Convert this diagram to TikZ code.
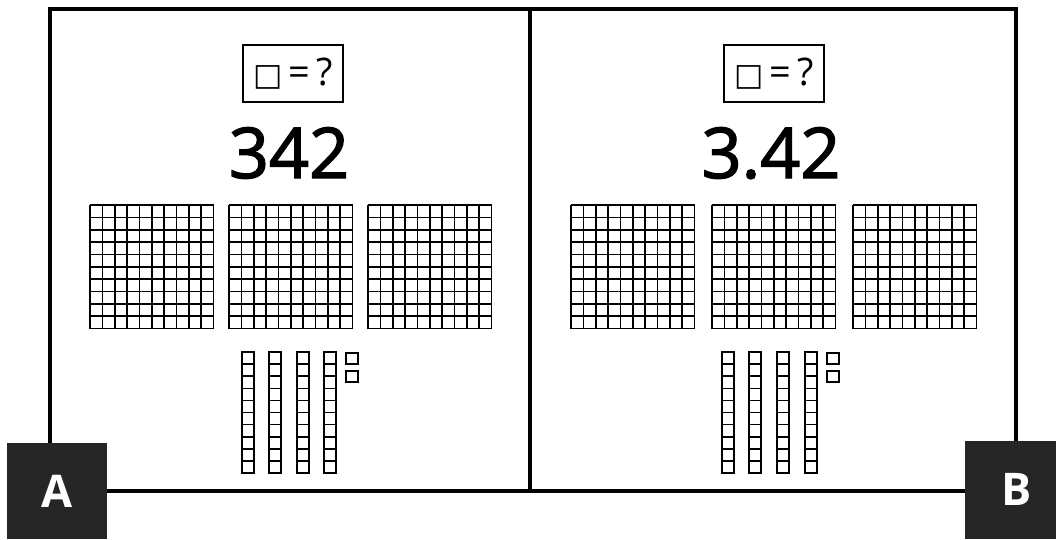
\documentclass[tikz,border=0pt]{standalone}
\usepackage{fontspec}
\setmainfont{Open Sans}
\newfontfamily\symbfont{DejaVu Sans}
\newfontfamily\numfont[FakeBold=2]{Open Sans}
\begin{document}
\begin{tikzpicture}[x=1pt, y=-1pt,
  frame/.style={line width=3.5pt},
  gridline/.style={line width=1.6pt},
  qbox/.style={draw, line width=2.2pt, minimum width=100pt, minimum height=57pt, inner sep=0pt, font=\fontsize{38}{38}\selectfont},
  numeral/.style={anchor=base, inner sep=0pt, font=\numfont\fontsize{70}{70}\selectfont},
  tag/.style={fill=black!85, text=white, inner sep=0pt, font=\bfseries\fontsize{45}{45}\selectfont}]
  \useasboundingbox (0,0) rectangle (1056,539);

  % outer frame and divider
  \draw[frame] (50,9) rectangle (1016,491);
  \draw[frame] (530,9) -- (530,491);

  % question boxes
  \node[qbox] (qa) at (293,73.5) {{\symbfont\fontsize{31}{31}\selectfont □}\,=\,?};
  \node[qbox] (qb) at (774,73.5) {{\symbfont\fontsize{31}{31}\selectfont □}\,=\,?};

  % numbers
  \node[numeral] (na) at (289,178) {342};
  \node[numeral] (nb) at (771,178) {3.42};

  % hundreds flats
  \foreach \gx in {90,229,368,571,712,853} {
    \foreach \k in {0,...,10} {
      \draw[gridline] (\gx+\k*12.35,205) -- (\gx+\k*12.35,328.5);
      \draw[gridline] (\gx,205+\k*12.35) -- (\gx+123.5,205+\k*12.35);
    }
  }

  % tens rods
  \foreach \rx in {242,269,297,324,722,749,777,805} {
    \foreach \k in {0,...,9}
      \draw[gridline] (\rx,352+\k*12.1) rectangle ++(12,12.1);
  }

  % ones
  \foreach \ux in {346,827} {
    \draw[gridline] (\ux,353) rectangle ++(12,11);
    \draw[gridline] (\ux,371) rectangle ++(12,11);
  }

  % corner tags
  \fill[black!85] (7,443) rectangle (107,539);
  \node[tag] (ta) at (57,491) {A};
  \fill[black!85] (965,441) rectangle (1056,539);
  \node[tag] (tb) at (1017,489) {B};
\end{tikzpicture}
\end{document}
